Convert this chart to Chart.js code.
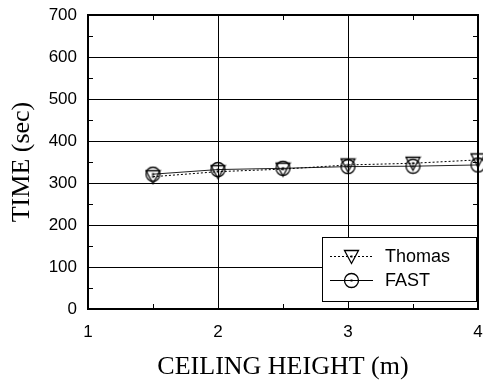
<!DOCTYPE html>
<html>
<head>
<meta charset="utf-8">
<script src="https://cdn.jsdelivr.net/npm/chart.js@4/dist/chart.umd.min.js"></script>
<style>
    html, body { margin: 0; padding: 0; background: #ffffff; }
    #wrap { width: 483px; height: 382px; }
</style>
</head>
<body>
<div id="wrap"><canvas id="timeChart"></canvas></div>
<script>

/* =========================
DATA
========================= */

const ceilingHeights = [1.5, 2, 2.5, 3, 3.5, 4];

const thomasTimes = [315, 327, 333, 343, 347, 355];

const fastTimes = [321, 332, 335, 339, 340, 343];

const seriesNames = ["Thomas", "FAST"];

const xTicks = [1, 2, 3, 4];

const yTicks = [0, 100, 200, 300, 400, 500, 600, 700];

/* =========================
MARKERS
========================= */

function makeMarker(kind) {

    const c = document.createElement("canvas");
    c.width = 17;
    c.height = 17;
    const g = c.getContext("2d");
    g.strokeStyle = "#000000";
    g.fillStyle = "#000000";
    g.lineWidth = 1.3;

    if (kind === "triangle") {
        g.beginPath();
        g.moveTo(1.5, 2.5);
        g.lineTo(15.5, 2.5);
        g.lineTo(8.5, 15.5);
        g.closePath();
        g.stroke();
    } else {
        g.beginPath();
        g.arc(8.5, 8.5, 7, 0, Math.PI * 2);
        g.stroke();
    }

    g.fillRect(7.5, 7.5, 2, 2);

    return c;

}

const triangleMarker = makeMarker("triangle");
const circleMarker = makeMarker("circle");

/* =========================
FRAME + MINOR TICKS
========================= */

const framePlugin = {

    id: "frame",

    afterDatasetsDraw(chart) {

        const ctx = chart.ctx;
        const a = chart.chartArea;
        const xs = chart.scales.x;
        const ys = chart.scales.y;

        ctx.save();
        ctx.strokeStyle = "#000000";
        ctx.lineWidth = 1;

        ctx.beginPath();
        [1.5, 2.5, 3.5].forEach(v => {
            const px = Math.round(xs.getPixelForValue(v)) + 0.5;
            ctx.moveTo(px, a.bottom);
            ctx.lineTo(px, a.bottom - 5);
            ctx.moveTo(px, a.top);
            ctx.lineTo(px, a.top + 5);
        });
        [50, 150, 250, 350, 450, 550, 650].forEach(v => {
            const py = Math.round(ys.getPixelForValue(v)) + 0.5;
            ctx.moveTo(a.left, py);
            ctx.lineTo(a.left + 5, py);
            ctx.moveTo(a.right, py);
            ctx.lineTo(a.right - 5, py);
        });
        ctx.stroke();

        ctx.lineWidth = 2;
        ctx.strokeRect(a.left, a.top, a.right - a.left, a.bottom - a.top);

        ctx.restore();

    }

};

/* =========================
LEGEND BOX
========================= */

const legendPlugin = {

    id: "boxLegend",

    afterDraw(chart) {

        const ctx = chart.ctx;
        const a = chart.chartArea;
        const w = 154;
        const h = 64;
        const x0 = a.right - 2 - w;
        const y0 = a.bottom - 8 - h;

        ctx.save();
        ctx.fillStyle = "#ffffff";
        ctx.fillRect(x0, y0, w, h);
        ctx.strokeStyle = "#000000";
        ctx.lineWidth = 1;
        ctx.strokeRect(x0 + 0.5, y0 + 0.5, w, h);

        chart.data.datasets.forEach((ds, i) => {

            const y = y0 + 19.5 + i * 24;

            ctx.beginPath();
            ctx.strokeStyle = "#000000";
            ctx.setLineDash(ds.borderDash || []);
            ctx.moveTo(x0 + 8, y);
            ctx.lineTo(x0 + 51, y);
            ctx.stroke();
            ctx.setLineDash([]);

            ctx.drawImage(ds.pointStyle, x0 + 21, Math.round(y - 8.5));

            ctx.fillStyle = "#000000";
            ctx.font = "18px Arial, 'Liberation Sans', sans-serif";
            ctx.textBaseline = "middle";
            ctx.textAlign = "left";
            ctx.fillText(ds.label, x0 + 63, y + 1);

        });

        ctx.restore();

    }

};

/* =========================
CHART
========================= */

const ctx = document.getElementById("timeChart");

new Chart(ctx, {

    type: "line",

    data: {

        datasets: [

            {
                label: seriesNames[0],
                data: ceilingHeights.map((x, i) => ({ x: x, y: thomasTimes[i] })),
                borderColor: "#000000",
                borderWidth: 1,
                borderDash: [2, 2],
                pointStyle: triangleMarker,
                fill: false,
                tension: 0
            },

            {
                label: seriesNames[1],
                data: ceilingHeights.map((x, i) => ({ x: x, y: fastTimes[i] })),
                borderColor: "#222222",
                borderWidth: 1,
                pointStyle: circleMarker,
                fill: false,
                tension: 0
            }

        ]

    },

    options: {

        responsive: true,
        maintainAspectRatio: false,
        animation: false,
        clip: false,

        layout: {
            padding: { top: 15, right: 5, left: 0, bottom: 0 }
        },

        plugins: {
            legend: { display: false },
            tooltip: { enabled: false }
        },

        scales: {

            x: {
                type: "linear",
                min: 1,
                max: 4,
                afterBuildTicks: scale => {
                    scale.ticks = xTicks.map(v => ({ value: v }));
                },
                afterFit: scale => {
                    scale.height = 73;
                    scale.paddingLeft = 0;
                    scale.paddingRight = 0;
                },
                grid: {
                    color: "#000000",
                    lineWidth: 1,
                    drawTicks: false
                },
                border: { display: false },
                ticks: {
                    color: "#000000",
                    padding: 13,
                    font: { family: "Arial, 'Liberation Sans', sans-serif", size: 17 }
                },
                title: {
                    display: true,
                    text: "CEILING HEIGHT (m)",
                    color: "#000000",
                    font: { family: "'Times New Roman', 'Liberation Serif', serif", size: 26, lineHeight: 1.1 },
                    padding: { top: 0, bottom: 1 }
                }
            },

            y: {
                min: 0,
                max: 700,
                afterBuildTicks: scale => {
                    scale.ticks = yTicks.map(v => ({ value: v }));
                },
                afterFit: scale => {
                    scale.width = 88;
                    scale.paddingTop = 0;
                    scale.paddingBottom = 0;
                },
                grid: {
                    color: "#000000",
                    lineWidth: 1,
                    drawTicks: false
                },
                border: { display: false },
                ticks: {
                    color: "#000000",
                    padding: 11,
                    font: { family: "Arial, 'Liberation Sans', sans-serif", size: 17 }
                },
                title: {
                    display: true,
                    text: "TIME (sec)",
                    color: "#000000",
                    font: { family: "'Times New Roman', 'Liberation Serif', serif", size: 26, lineHeight: 1.1 },
                    padding: { top: 8, bottom: 0 }
                }
            }

        }

    },

    plugins: [framePlugin, legendPlugin]

});

</script>
</body>
</html>
